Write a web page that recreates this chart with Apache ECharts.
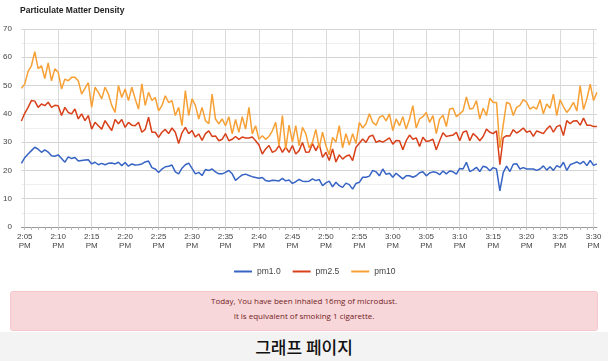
<!DOCTYPE html>
<html>
<head>
<meta charset="utf-8">
<script src="https://cdn.jsdelivr.net/npm/echarts@6/dist/echarts.min.js"></script>
<style>
  html, body { margin:0; padding:0; background:#fff; }
  #wrap { position:relative; width:608px; height:361px; overflow:hidden; }
  #chart { position:absolute; left:0; top:0; width:608px; height:361px; }
  #alert { position:absolute; left:10px; top:291px; width:588px; height:40px; box-sizing:border-box;
           background:#f8d7da; border:1px solid #f5c6cb; border-radius:3px; color:#721c24;
           font-family:"Open Sans", sans-serif; font-size:8px; line-height:14.5px; text-align:center; padding-top:2px; }
  #band { position:absolute; left:0; top:332px; width:608px; height:29px; background:#f3f3f3;
          font-family:"Noto Sans CJK KR", sans-serif; font-size:17px; font-weight:500; color:#111;
          text-align:center; line-height:29px; }
</style>
</head>
<body>
<div id="wrap">
  <div id="chart"></div>
  <div id="alert">Today, You have been inhaled 16mg of microdust.<br>It is equivalent of smoking 1 cigarette.</div>
  <div id="band">그래프 페이지</div>
</div>
<script>
// time categories: 2:04:30 PM to 3:30:30 PM, every 30 s
const startSeconds = 14 * 3600 + 4 * 60 + 30;
const stepSeconds = 30;
const pointCount = 173;
const categories = [];
for (let i = 0; i < pointCount; i++) {
  const s = startSeconds + i * stepSeconds;
  const h = Math.floor(s / 3600), m = Math.floor((s % 3600) / 60), sec = s % 60;
  categories.push(h + ':' + String(m).padStart(2, '0') + ':' + String(sec).padStart(2, '0'));
}

const seriesNames = ['pm1.0', 'pm2.5', 'pm10'];

const pm1 = [
  22.5, 24.5, 25.8, 27, 28.2, 27.5, 26.4, 27.3, 26.5, 25.2,
  25, 25.5, 24.2, 22.9, 24.8, 24.2, 24.6, 23.3, 23.5, 23.7,
  23.8, 22.3, 22.9, 22, 22.5, 22, 22.5, 22.6, 22.3, 22.9,
  21.7, 22.8, 21.5, 22.3, 21.9, 22, 22.3, 23, 23.3, 21,
  20.5, 19.3, 20.5, 21.3, 21.5, 21.9, 19.5, 18.8, 20.8, 22,
  22.6, 20.7, 18.8, 19.3, 18.2, 20.3, 20, 20.5, 19.5, 18.8,
  18.8, 19.3, 20, 18.8, 16.5, 17.5, 18.4, 18.7, 18.2, 17.8,
  17.5, 17.2, 17.5, 16.4, 16.2, 16.5, 16.4, 16.3, 17.2, 16.3,
  16.6, 15.4, 16, 16.8, 16.2, 16.1, 16.2, 17, 16.4, 16.8,
  14.6, 15.6, 16.2, 14.2, 15.8, 14.6, 14, 15.5, 15, 13.4,
  15.4, 15.8, 17.6, 17.6, 18, 20, 19.5, 18.1, 20.5, 18.6,
  19, 17.6, 19, 18, 17, 18.1, 18.1, 17.6, 18.1, 19.2,
  19.5, 18.1, 19.1, 19.5, 19.3, 18.5, 19.8, 18.8, 19.8, 19.5,
  18.7, 20.7, 20.5, 22.9, 19.6, 20.2, 21.1, 19.6, 21.5, 21.1,
  19.9, 21, 20.5, 12.8, 19.2, 21.5, 19.6, 22.2, 22.4, 20.5,
  21, 20.5, 20.5, 20.5, 20, 20.5, 21.6, 20.1, 21.3, 20,
  21.7, 21.1, 22.9, 20, 22, 22.5, 23, 22.3, 23.2, 21.7,
  23.5, 21.8, 22.3
];

const pm25 = [
  37.5, 40.2, 42.3, 44.7, 44.5, 42.3, 43.5, 42.9, 44.1, 42.3,
  43, 42.9, 39.4, 42.3, 40.5, 40, 41.7, 38.2, 40, 37.6,
  39.4, 34.6, 37, 35.8, 34.6, 37.6, 35.8, 34.1, 38, 36.5,
  38, 35.2, 37, 36, 35.8, 37, 33.5, 34.5, 38.8, 33.5,
  33.5, 31.7, 33.5, 34.5, 33, 35, 33.5, 29.5, 33.3, 35.2,
  33, 34.1, 31.8, 32.9, 30.6, 33, 34, 32, 32.2, 30.5,
  31, 33, 30.5, 31, 32, 31, 31.8, 31.5, 31.5, 31.8,
  30.5, 29, 25.8, 27.6, 28.8, 26.4, 27, 28.8, 26.4, 28.2,
  26.4, 28.8, 25.8, 27, 29.9, 26.4, 26.5, 29.5, 27, 29.3,
  24.6, 26.4, 23.5, 27.6, 23, 25.5, 24, 25, 25.5, 23.5,
  28.2, 29.6, 31.1, 29.9, 32, 32.5, 29.9, 30.5, 30, 30.7,
  31.5, 29.3, 30.6, 30.5, 27.3, 30.5, 32.5, 31, 31.5, 28.5,
  31.7, 30.2, 30.5, 31, 27.3, 30.5, 33.3, 32, 32.3, 32.5,
  33.5, 30.5, 33.5, 34, 30.5, 33, 32, 30.5, 32, 34.6,
  33.5, 33, 34, 22, 31.5, 32.3, 32.2, 34.4, 33.2, 34,
  35, 33.5, 34, 32, 34, 33.5, 33, 34.6, 35.8, 33.5,
  35.5, 36, 32.3, 37.6, 36.5, 37.5, 37.6, 36, 38.5, 36,
  36, 35.5, 35.5
];

const pm10 = [
  49, 50.5, 55, 57, 62, 56, 57, 52.5, 58, 51.7,
  55.9, 54.7, 48.8, 52.3, 51.7, 52.9, 52.9, 51.7, 47, 49,
  51, 42.3, 49.4, 47.6, 45.3, 49.4, 47, 43, 40.5, 50,
  45.8, 48.8, 44.7, 49.4, 45.3, 41.7, 50.6, 43, 47.6, 44.7,
  45.8, 41.1, 42.9, 46.4, 44, 44.7, 39.4, 42.3, 35.8, 48.2,
  39.4, 45.3, 43, 38.2, 42.3, 37.6, 36.5, 47, 38.2, 36.5,
  38.2, 35.8, 39, 32.9, 38, 33.5, 39, 34.6, 42.3, 32.9,
  35.8, 31, 32.3, 31, 32, 34, 37, 28.8, 39.4, 27.6,
  36, 30, 35.8, 28.8, 35.2, 33, 28, 30, 34.5, 28,
  33.5, 28.8, 25.5, 31.7, 30, 35.8, 28, 33, 29, 33,
  29.5, 37, 35, 36.5, 40, 37, 36, 38.8, 39.4, 37.5,
  40, 34.1, 38.2, 35.8, 39, 34.6, 38.2, 42.9, 35, 38.2,
  39, 40.5, 37, 39.4, 33, 38.2, 39.5, 35.5, 41.7, 42,
  39, 40, 41.1, 46, 41.7, 42, 44.7, 38.2, 42, 39.4,
  45.5, 44, 44, 28, 36, 44.1, 43.5, 39.4, 42.3, 43,
  45, 44.1, 41.7, 42.5, 41.7, 45, 40, 43.5, 42, 47,
  39.4, 45, 42.5, 40.5, 42, 44.1, 41, 50, 41.5, 45.3,
  50.5, 44.7, 47.6
];

const yTicks = { min: 0, max: 70, interval: 10 };
const colors = ['#3764c4', '#d8401a', '#f7a035'];

function isFiveMinute(index, value) {
  const p = value.split(':');
  return p[2] === '00' && (parseInt(p[1], 10) % 5 === 0);
}
function isMinute(index, value) {
  return value.split(':')[2] === '00';
}
function fmtLabel(value) {
  const p = value.split(':');
  let h = parseInt(p[0], 10);
  const ampm = h >= 12 ? 'PM' : 'AM';
  h = h % 12 || 12;
  return h + ':' + p[1] + '\n' + ampm;
}

const chart = echarts.init(document.getElementById('chart'), null, { renderer: 'canvas' });
chart.setOption({
  animation: false,
  color: colors,
  title: {
    text: 'Particulate Matter Density',
    left: 20, top: 6, padding: 0,
    textStyle: { fontFamily: 'Liberation Sans, Arial, sans-serif', fontSize: 8.5, fontWeight: 'bold', color: '#222' }
  },
  legend: {
    data: seriesNames,
    left: 229, top: 262,
    icon: 'rect', itemWidth: 18, itemHeight: 2, itemGap: 12,
    textStyle: { fontFamily: 'Liberation Sans, Arial, sans-serif', fontSize: 8.5, color: '#444' }
  },
  grid: { left: 20.65, right: 11.1, top: 29, bottom: 134, containLabel: false },
  xAxis: {
    type: 'category',
    boundaryGap: false,
    data: categories,
    axisLine: { show: true, lineStyle: { color: '#999', width: 1 } },
    axisTick: { show: true, interval: isMinute, length: 3, lineStyle: { color: '#bbb' } },
    axisLabel: {
      interval: isFiveMinute, formatter: fmtLabel, margin: 5,
      fontFamily: 'Liberation Sans, Arial, sans-serif', fontSize: 8, lineHeight: 9.5, color: '#444'
    },
    splitLine: { show: true, interval: isFiveMinute, lineStyle: { color: '#dadada', width: 1 } }
  },
  yAxis: {
    type: 'value',
    min: yTicks.min, max: yTicks.max, interval: yTicks.interval,
    axisLine: { show: false }, axisTick: { show: false },
    axisLabel: { margin: 9.5, fontFamily: 'Liberation Sans, Arial, sans-serif', fontSize: 8, color: '#444' },
    splitLine: { show: true, lineStyle: { color: '#d4d4d4', width: 1 } },
    minorTick: { show: false, splitNumber: 2 },
    minorSplitLine: { show: true, lineStyle: { color: '#eeeeee', width: 1 } }
  },
  series: [
    { name: seriesNames[0], type: 'line', data: pm1, symbol: 'none', lineStyle: { width: 1.5 } },
    { name: seriesNames[1], type: 'line', data: pm25, symbol: 'none', lineStyle: { width: 1.5 } },
    { name: seriesNames[2], type: 'line', data: pm10, symbol: 'none', lineStyle: { width: 1.5 } }
  ]
});
</script>
</body>
</html>
